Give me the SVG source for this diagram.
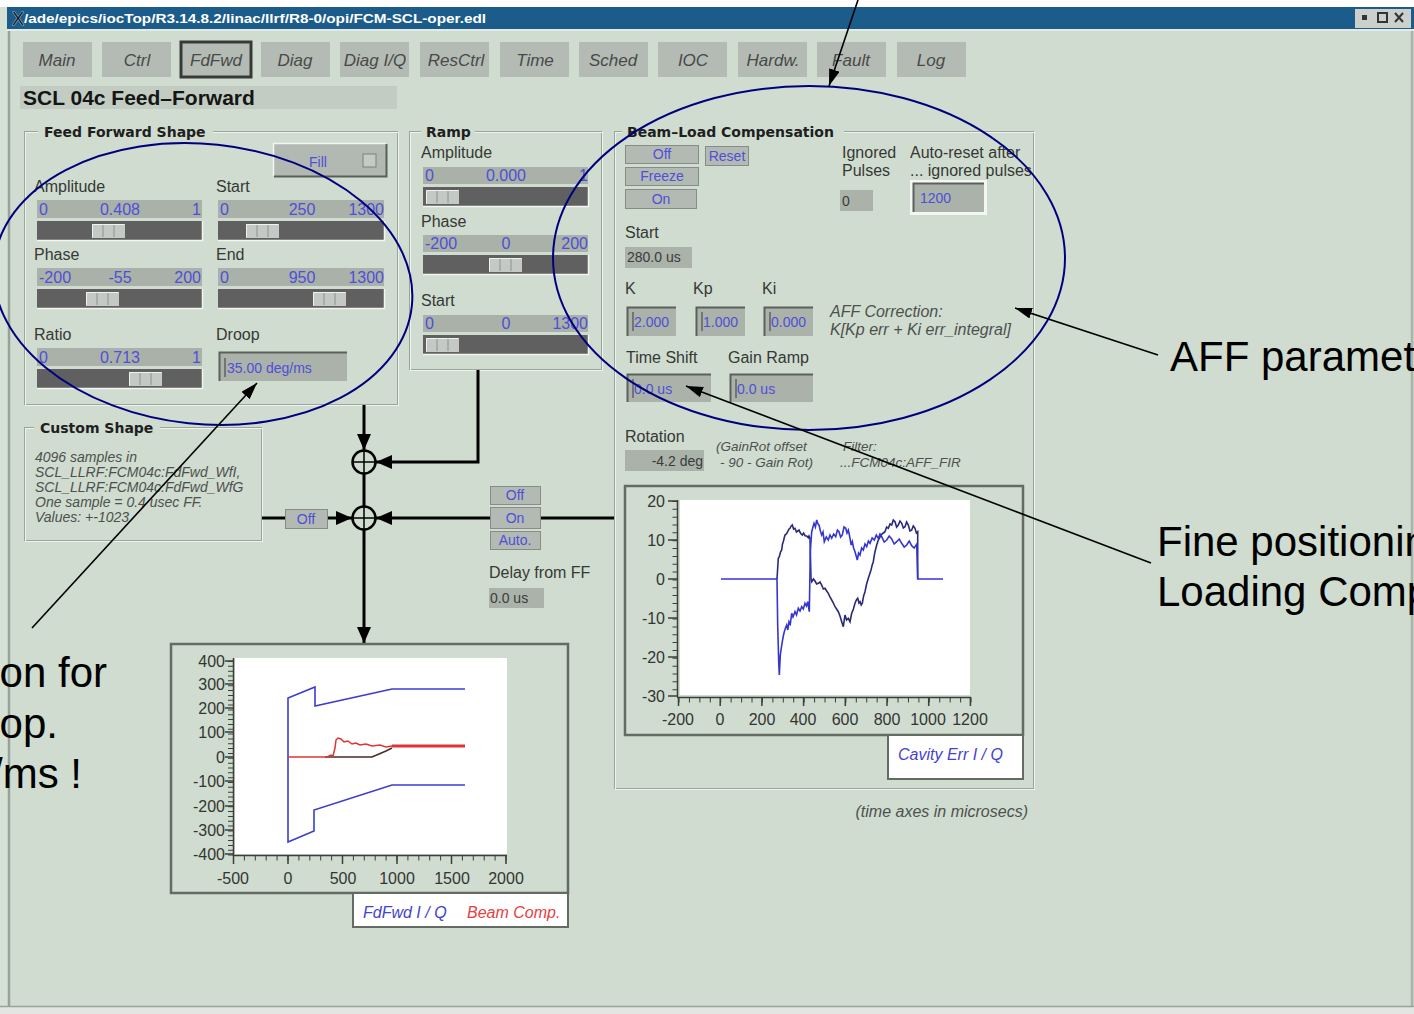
<svg xmlns="http://www.w3.org/2000/svg" width="1414" height="1014" viewBox="0 0 1414 1014">
<defs>
<style>
text{font-family:"Liberation Sans",Arial,sans-serif}
.lbl{font-size:16px;fill:#363836}
.hdr{font-family:"DejaVu Sans","Liberation Sans",sans-serif;font-size:14px;font-weight:bold;fill:#1e201e}
.val{font-size:16px;fill:#4f4fd8}
.bv{font-size:14px;fill:#4f4fd8}
.dv{font-size:14px;fill:#3a3c3a}
.tab{fill:#b4bbb4}
.tabt{font-size:17px;font-style:italic;fill:#484a48;text-anchor:middle}
.it{font-style:italic;fill:#4e504e}
.ax{font-size:16px;fill:#333533}
.ann{font-size:42px;fill:#000}
.m{text-anchor:middle}
.e{text-anchor:end}
.strip{fill:#a9b1a9}
.track{fill:#5f605f}
.hl{fill:none;stroke:#f2f5f2;stroke-width:1.5}
.sh{fill:none;stroke:#5a5e5a;stroke-width:2}
.frame{fill:none;stroke:#9ca59c}
.frame2{fill:none;stroke:#eef3ee}
.box{fill:#aab2aa}
.btn{fill:#b3bab3;stroke:#858d85}
.flow{stroke:#000;stroke-width:3;fill:none}
.note{stroke:#000;stroke-width:1.6;fill:none}
.ell{fill:none;stroke:#00007e;stroke-width:2}
.pframe{fill:none;stroke:#636b63;stroke-width:2.5}
.tick{stroke:#3c3e3c;fill:none}
</style>
<marker id="flowHead" markerUnits="userSpaceOnUse" markerWidth="16" markerHeight="14" viewBox="0 0 16 14" refX="16" refY="7" orient="auto">
<path d="M0,0 L16,7 L0,14 z" fill="#000"/>
</marker>
<marker id="noteHead" markerUnits="userSpaceOnUse" markerWidth="17" markerHeight="11" viewBox="0 0 17 11" refX="17" refY="5.5" orient="auto">
<path d="M0,0 L17,5.5 L0,11 z" fill="#000"/>
</marker>
<symbol id="thumb" viewBox="0 0 33 14" width="33" height="14">
<rect x="0" y="0" width="33" height="14" fill="#c5c9c5"/>
<path d="M0.5,13.5 V0.5 H32.5" stroke="#f0f2f0" fill="none"/>
<path d="M11,1 V13 M22,1 V13" stroke="#8d928d"/>
</symbol>
</defs>

<!-- window background -->
<rect x="0" y="0" width="1414" height="1014" fill="#cfdccf"/>
<rect x="0" y="0" width="1414" height="7" fill="#ffffff"/>
<rect x="0" y="7" width="8" height="1007" fill="#d6e1d6"/>
<line x1="9" y1="29" x2="9" y2="1007" stroke="#98a298" stroke-width="2.5"/>
<line x1="1412" y1="29" x2="1412" y2="1007" stroke="#aab2aa" stroke-width="2.5"/>
<rect x="0" y="1006" width="1414" height="8" fill="#e2e5e2"/>
<line x1="0" y1="1006.5" x2="1414" y2="1006.5" stroke="#9aa29a" stroke-width="1.5"/>

<!-- title bar -->
<g id="titlebar">
<rect x="7" y="7" width="1407" height="22" fill="#1b5c8a"/>
<line x1="7" y1="30" x2="1414" y2="30" stroke="#e4ebe4" stroke-width="2"/>
<text x="12" y="25" font-family="'Liberation Serif',serif" font-size="18" fill="#101c30" stroke="#e8eef4" stroke-width="0.6" paint-order="stroke">X</text>
<text x="24" y="23" font-size="13" font-weight="bold" fill="#ffffff" textLength="462" lengthAdjust="spacingAndGlyphs">/ade/epics/iocTop/R3.14.8.2/linac/llrf/R8-0/opi/FCM-SCL-oper.edl</text>
<rect x="1355" y="9" width="56" height="19" fill="#ccd0cc"/>
<rect x="1362" y="15" width="5" height="5" fill="#333"/>
<rect x="1378" y="13" width="9" height="9" fill="none" stroke="#333" stroke-width="2"/>
<path d="M1395,13 L1403,22 M1403,13 L1395,22" stroke="#333" stroke-width="2"/>
</g>

<!-- tab row -->
<g id="tabs">
<rect class="tab" x="23" y="42" width="69" height="35"/><text class="tabt" x="57" y="66">Main</text>
<rect class="tab" x="102" y="42" width="69" height="35"/><text class="tabt" x="137" y="66">Ctrl</text>
<rect class="tab" x="181" y="42" width="70" height="35" stroke="#383a38" stroke-width="3"/><text class="tabt" x="216" y="66">FdFwd</text>
<rect class="tab" x="261" y="42" width="69" height="35"/><text class="tabt" x="295" y="66">Diag</text>
<rect class="tab" x="340" y="42" width="69" height="35"/><text class="tabt" x="375" y="66">Diag I/Q</text>
<rect class="tab" x="420" y="42" width="69" height="35"/><text class="tabt" x="456" y="66">ResCtrl</text>
<rect class="tab" x="500" y="42" width="69" height="35"/><text class="tabt" x="535" y="66">Time</text>
<rect class="tab" x="579" y="42" width="69" height="35"/><text class="tabt" x="613" y="66">Sched</text>
<rect class="tab" x="658" y="42" width="69" height="35"/><text class="tabt" x="693" y="66">IOC</text>
<rect class="tab" x="738" y="42" width="69" height="35"/><text class="tabt" x="773" y="66">Hardw.</text>
<rect class="tab" x="817" y="42" width="69" height="35"/><text class="tabt" x="851" y="66">Fault</text>
<rect class="tab" x="897" y="42" width="69" height="35"/><text class="tabt" x="931" y="66">Log</text>
</g>

<!-- screen title -->
<g id="screenTitle">
<rect x="20" y="86" width="377" height="23" fill="#c3ccc3"/>
<text x="23" y="105" font-size="21" font-weight="bold" fill="#141614">SCL 04c Feed–Forward</text>
</g>

<!-- Feed Forward Shape panel -->
<g id="ffShape">
<rect class="frame" x="24.5" y="131.5" width="373" height="273"/>
<rect class="frame2" x="25.5" y="132.5" width="373" height="273"/>
<rect x="38" y="124" width="175" height="16" fill="#cfdccf"/>
<text class="hdr" x="44" y="137">Feed Forward Shape</text>

<rect x="273" y="143" width="114" height="34" fill="#b2b9b2"/>
<path d="M273.5,176.5 V143.5 H386.5" class="hl"/>
<path d="M274,176.5 H386.5 V144" class="sh"/>
<text class="bv m" x="318" y="167">Fill</text>
<rect x="363" y="154" width="13" height="13" fill="#c6cac6" stroke="#7a807a"/>

<text class="lbl" x="34" y="192">Amplitude</text>
<rect class="strip" x="37" y="200" width="165" height="18"/>
<rect class="track" x="37" y="221" width="165" height="19"/>
<path class="hl" d="M37,240.5 H202.5 V221"/>
<use href="#thumb" x="92" y="224"/>
<text class="val" x="39" y="215">0</text>
<text class="val m" x="120" y="215">0.408</text>
<text class="val e" x="201" y="215">1</text>

<text class="lbl" x="216" y="192">Start</text>
<rect class="strip" x="218" y="200" width="166" height="18"/>
<rect class="track" x="218" y="221" width="166" height="19"/>
<path class="hl" d="M218,240.5 H384.5 V221"/>
<use href="#thumb" x="246" y="224"/>
<text class="val" x="220" y="215">0</text>
<text class="val m" x="302" y="215">250</text>
<text class="val e" x="384" y="215">1300</text>

<text class="lbl" x="34" y="260">Phase</text>
<rect class="strip" x="37" y="268" width="165" height="18"/>
<rect class="track" x="37" y="289" width="165" height="19"/>
<path class="hl" d="M37,308.5 H202.5 V289"/>
<use href="#thumb" x="86" y="292"/>
<text class="val" x="39" y="283">-200</text>
<text class="val m" x="120" y="283">-55</text>
<text class="val e" x="201" y="283">200</text>

<text class="lbl" x="216" y="260">End</text>
<rect class="strip" x="218" y="268" width="166" height="18"/>
<rect class="track" x="218" y="289" width="166" height="19"/>
<path class="hl" d="M218,308.5 H384.5 V289"/>
<use href="#thumb" x="313" y="292"/>
<text class="val" x="220" y="283">0</text>
<text class="val m" x="302" y="283">950</text>
<text class="val e" x="384" y="283">1300</text>

<text class="lbl" x="34" y="340">Ratio</text>
<rect class="strip" x="37" y="348" width="165" height="18"/>
<rect class="track" x="37" y="369" width="165" height="19"/>
<path class="hl" d="M37,388.5 H202.5 V369"/>
<use href="#thumb" x="129" y="372"/>
<text class="val" x="39" y="363">0</text>
<text class="val m" x="120" y="363">0.713</text>
<text class="val e" x="201" y="363">1</text>

<text class="lbl" x="216" y="340">Droop</text>
<rect class="box" x="219" y="352" width="128" height="29"/>
<path d="M219.5,381 V352.5 H347" stroke="#5c605c" stroke-width="2" fill="none"/>
<line x1="225" y1="358" x2="225" y2="377" stroke="#3a3a3a"/>
<text class="bv" x="227" y="373">35.00 deg/ms</text>
</g>

<!-- Ramp panel -->
<g id="ramp">
<rect class="frame" x="409.5" y="131.5" width="192" height="238"/>
<rect class="frame2" x="410.5" y="132.5" width="192" height="238"/>
<rect x="421" y="124" width="54" height="16" fill="#cfdccf"/>
<text class="hdr" x="426" y="137">Ramp</text>

<text class="lbl" x="421" y="158">Amplitude</text>
<rect class="strip" x="423" y="167" width="165" height="17"/>
<rect class="track" x="423" y="187" width="165" height="19"/>
<path class="hl" d="M423,206.5 H588.5 V187"/>
<use href="#thumb" x="426" y="190"/>
<text class="val" x="425" y="181">0</text>
<text class="val m" x="506" y="181">0.000</text>
<text class="val e" x="588" y="181">1</text>

<text class="lbl" x="421" y="227">Phase</text>
<rect class="strip" x="423" y="235" width="165" height="17"/>
<rect class="track" x="423" y="255" width="165" height="19"/>
<path class="hl" d="M423,274.5 H588.5 V255"/>
<use href="#thumb" x="489" y="258"/>
<text class="val" x="425" y="249">-200</text>
<text class="val m" x="506" y="249">0</text>
<text class="val e" x="588" y="249">200</text>

<text class="lbl" x="421" y="306">Start</text>
<rect class="strip" x="423" y="315" width="165" height="17"/>
<rect class="track" x="423" y="335" width="165" height="19"/>
<path class="hl" d="M423,354.5 H588.5 V335"/>
<use href="#thumb" x="426" y="338"/>
<text class="val" x="425" y="329">0</text>
<text class="val m" x="506" y="329">0</text>
<text class="val e" x="588" y="329">1300</text>
</g>

<!-- Custom Shape panel -->
<g id="customShape">
<rect class="frame" x="24.5" y="427.5" width="237" height="113"/>
<rect class="frame2" x="25.5" y="428.5" width="237" height="113"/>
<rect x="34" y="420" width="126" height="16" fill="#cfdccf"/>
<text class="hdr" x="40" y="433">Custom Shape</text>
<text class="it" font-size="14" x="35" y="462">4096 samples in</text>
<text class="it" font-size="14" x="35" y="477">SCL_LLRF:FCM04c:FdFwd_WfI,</text>
<text class="it" font-size="14" x="35" y="492">SCL_LLRF:FCM04c:FdFwd_WfG</text>
<text class="it" font-size="14" x="35" y="507">One sample = 0.4 usec FF.</text>
<text class="it" font-size="14" x="35" y="522">Values: +-1023</text>
</g>

<!-- summing junctions and switches -->
<g id="junctionTop">
<circle cx="364" cy="462" r="11.5" fill="none" stroke="#000" stroke-width="2.5"/>
<path d="M352.5,462 H375.5 M364,450.5 V473.5" stroke="#000" stroke-width="1.5"/>
</g>
<g id="junctionBottom">
<circle cx="364" cy="518" r="11.5" fill="none" stroke="#000" stroke-width="2.5"/>
<path d="M352.5,518 H375.5 M364,506.5 V529.5" stroke="#000" stroke-width="1.5"/>
</g>

<g id="connectors">
<line class="flow" x1="364" y1="405" x2="364" y2="450" marker-end="url(#flowHead)"/>
<path class="flow" d="M478,370 V462 H376" marker-end="url(#flowHead)"/>
<line class="flow" x1="364" y1="473.5" x2="364" y2="506.5"/>
<line class="flow" x1="262" y1="518" x2="285" y2="518"/>
<line class="flow" x1="328" y1="518" x2="352" y2="518" marker-end="url(#flowHead)"/>
<line class="flow" x1="614" y1="518" x2="540" y2="518"/>
<line class="flow" x1="490" y1="518" x2="376" y2="518" marker-end="url(#flowHead)"/>
<line class="flow" x1="364" y1="529.5" x2="364" y2="643" marker-end="url(#flowHead)"/>
</g>

<g id="customSwitch">
<rect class="btn" x="285.5" y="509.5" width="42" height="19"/>
<text class="bv m" font-size="13" x="306" y="524">Off</text>
</g>

<g id="beamSwitch">
<rect class="btn" x="490.5" y="486.5" width="50" height="18"/>
<text class="bv m" font-size="13" x="515" y="500">Off</text>
<rect class="btn" x="490.5" y="507.5" width="50" height="21"/>
<text class="bv m" font-size="13" x="515" y="523">On</text>
<rect class="btn" x="490.5" y="531.5" width="50" height="18"/>
<text class="bv m" font-size="13" x="515" y="545">Auto.</text>
<text class="lbl" x="489" y="578">Delay from FF</text>
<rect class="box" x="489" y="588" width="55" height="20"/>
<text class="dv" font-size="13" x="490" y="603">0.0 us</text>
</g>

<!-- Beam-Load Compensation panel -->
<g id="beamLoad">
<rect class="frame" x="614.5" y="131.5" width="419" height="657"/>
<rect class="frame2" x="615.5" y="132.5" width="419" height="657"/>
<rect x="622" y="124" width="222" height="16" fill="#cfdccf"/>
<text class="hdr" x="627" y="137">Beam–Load Compensation</text>

<rect class="btn" x="625.5" y="145.5" width="73" height="18"/>
<text class="bv m" font-size="13" x="662" y="159">Off</text>
<rect class="btn" x="705.5" y="146.5" width="43" height="19" stroke="#5c6a9a"/>
<text class="bv m" font-size="13" x="727" y="161">Reset</text>
<rect class="btn" x="625.5" y="167.5" width="73" height="18"/>
<text class="bv m" font-size="13" x="662" y="181">Freeze</text>
<rect class="btn" x="625.5" y="189.5" width="71" height="19"/>
<text class="bv m" font-size="13" x="661" y="204">On</text>

<text class="lbl" x="842" y="158">Ignored</text>
<text class="lbl" x="842" y="176">Pulses</text>
<text class="lbl" x="910" y="158">Auto-reset after</text>
<text class="lbl" x="910" y="176">... ignored pulses</text>
<rect class="box" x="840" y="190" width="33" height="21"/>
<text class="dv" font-size="13" x="842" y="206">0</text>
<rect x="910" y="180" width="77" height="35" fill="#f4f6f4"/>
<rect class="box" x="913" y="183" width="71" height="29"/>
<path d="M913.5,212 V183.5 H984" stroke="#5c605c" stroke-width="2" fill="none"/>
<text class="bv" x="920" y="203">1200</text>

<text class="lbl" x="625" y="238">Start</text>
<rect class="box" x="625" y="247" width="67" height="21"/>
<text class="dv" font-size="13" x="627" y="262">280.0 us</text>

<text class="lbl" x="625" y="294">K</text>
<text class="lbl" x="693" y="294">Kp</text>
<text class="lbl" x="762" y="294">Ki</text>
<rect class="box" x="627" y="307" width="49" height="29"/>
<path d="M627.5,336 V307.5 H676" stroke="#5c605c" stroke-width="2" fill="none"/>
<line x1="633" y1="312" x2="633" y2="331" stroke="#3a3a3a"/>
<text class="bv" x="634" y="327">2.000</text>
<rect class="box" x="696" y="307" width="49" height="29"/>
<path d="M696.5,336 V307.5 H745" stroke="#5c605c" stroke-width="2" fill="none"/>
<line x1="702" y1="312" x2="702" y2="331" stroke="#3a3a3a"/>
<text class="bv" x="703" y="327">1.000</text>
<rect class="box" x="764" y="307" width="49" height="29"/>
<path d="M764.5,336 V307.5 H813" stroke="#5c605c" stroke-width="2" fill="none"/>
<line x1="770" y1="312" x2="770" y2="331" stroke="#3a3a3a"/>
<text class="bv" x="771" y="327">0.000</text>

<text class="it" font-size="16" x="830" y="317">AFF Correction:</text>
<text class="it" font-size="16" x="830" y="335">K[Kp err + Ki err_integral]</text>

<text class="lbl" x="626" y="363">Time Shift</text>
<text class="lbl" x="728" y="363">Gain Ramp</text>
<rect class="box" x="627" y="374" width="84" height="28"/>
<path d="M627.5,402 V374.5 H711" stroke="#5c605c" stroke-width="2" fill="none"/>
<line x1="633" y1="379" x2="633" y2="398" stroke="#3a3a3a"/>
<text class="bv" x="634" y="394">0.0 us</text>
<rect class="box" x="730" y="374" width="83" height="28"/>
<path d="M730.5,402 V374.5 H813" stroke="#5c605c" stroke-width="2" fill="none"/>
<line x1="736" y1="379" x2="736" y2="398" stroke="#3a3a3a"/>
<text class="bv" x="737" y="394">0.0 us</text>

<text class="lbl" x="625" y="442">Rotation</text>
<rect class="box" x="625" y="450" width="79" height="21"/>
<text class="dv e" x="703" y="466">-4.2 deg</text>
<text class="it" font-size="13.5" x="716" y="451">(GainRot offset</text>
<text class="it" font-size="13.5" x="720" y="467">- 90 - Gain Rot)</text>
<text class="it" font-size="13.5" x="843" y="451">Filter:</text>
<text class="it" font-size="13.5" x="840" y="467">...FCM04c:AFF_FIR</text>
</g>

<!-- cavity error plot -->
<g id="errPlot">
<rect class="pframe" x="625" y="486" width="398" height="249"/>
<rect x="680" y="500" width="290" height="195" fill="#ffffff"/>
<line class="tick" x1="677.5" y1="500" x2="677.5" y2="697" stroke-width="1.5"/>
<line class="tick" x1="675" y1="501" x2="675" y2="697" stroke-width="5" stroke-dasharray="1 6.84"/>
<path class="tick" stroke-width="1.5" d="M668,501 H678 M668,540 H678 M668,579 H678 M668,618 H678 M668,657 H678 M668,696 H678"/>
<line class="tick" x1="677" y1="697.5" x2="971" y2="697.5" stroke-width="1.5"/>
<line class="tick" x1="678.5" y1="700" x2="972" y2="700" stroke-width="5" stroke-dasharray="1 9.43"/>
<path class="tick" stroke-width="1.5" d="M678.5,697 V706 M720.2,697 V706 M761.9,697 V706 M803.6,697 V706 M845.3,697 V706 M887,697 V706 M928.7,697 V706 M970.4,697 V706"/>
<text class="ax e" x="665" y="507">20</text>
<text class="ax e" x="665" y="546">10</text>
<text class="ax e" x="665" y="585">0</text>
<text class="ax e" x="665" y="624">-10</text>
<text class="ax e" x="665" y="663">-20</text>
<text class="ax e" x="665" y="702">-30</text>
<text class="ax m" x="678" y="725">-200</text>
<text class="ax m" x="720" y="725">0</text>
<text class="ax m" x="762" y="725">200</text>
<text class="ax m" x="803" y="725">400</text>
<text class="ax m" x="845" y="725">600</text>
<text class="ax m" x="887" y="725">800</text>
<text class="ax m" x="928" y="725">1000</text>
<text class="ax m" x="970" y="725">1200</text>
<polyline fill="none" stroke="#2a2a7a" stroke-width="1.6" points="777,579 778.3,558.3 779.3,556.7 780.5,552 781.7,550 782.5,544 783.3,541.7 784.2,538 785,535 786.4,534 787.7,531.7 789,529 790,528.3 791.2,526 792.3,525 793.6,529 795,528.3 796.4,532 797.7,531 799,530 800,532.3 801.1,534 802.3,535 803.6,533 805,535.7 806.7,536 808.3,537.7 809,536 810,538.3 811,579 811.7,581.7 813.4,579 815,581 816.6,584 818.3,583.3 820,582 821.7,585 823.3,589 825,588.3 826.7,591 828.3,593.3 830,597 831.7,600 833.4,603 835,606.7 836.6,609 838.3,611.7 840,616 841.7,621.7 843.3,626.7 845,615 846.6,620 848.3,618.3 850,621.7 851.7,613.3 853.4,609 855,603.3 856.4,600 857.7,598.3 859,603 860,601.7 861.2,605 862.3,603.3 863.6,596 865,591.7 866.6,584 868.3,578.3 869.7,574 871,570 872.2,565 873.3,561.7 874.2,556 875,551.7 876.7,545 878.3,540 880,537 881.7,534.3 883.3,533 885,531.7 886.6,527 888.3,528.3 890,524 891.7,525 893.3,520 895,521.7 896.6,527 898.3,525 900,521 901.7,523.3 903.3,528 905,526.7 906.6,522 908.3,525 910,531 911.7,530 913.3,526 915,528.3 916.4,533 917.7,531.7 917.7,579"/>
<polyline fill="none" stroke="#3535d2" stroke-width="1.6" points="721,579 777,579 777.7,625 778.7,661.7 779.3,675 780.3,655 781.3,648 782.3,641.7 783.3,636 784.3,631.7 785.5,628 786.7,625 787.8,630 789,621.7 790.3,624 791.7,613.3 793,617 795,611.7 796.5,615 798.3,608.3 800,611 801.7,606.7 803.3,609 805,603.3 806.5,606 807.7,601.7 809.3,611.7 810.3,551.7 811.7,531.7 814,523.3 815.4,527 816.7,520 818,524 819,525 820.4,531 821.7,535 823,532 824.3,541.7 826.3,537 828.3,540 830,535 831.7,538.3 833.7,534 835.7,536.7 837.4,530 839,531.7 840.6,537 842.3,535 844,527 845.7,528.3 847,533 848.3,530 849.2,534 850,538.3 851.2,545 852.3,541.7 853.6,548 855,551.7 856.2,556 857.3,560 858.6,553 860,555 861.6,548 863.3,550 865,544 866.7,546.7 868.4,541 870,543.3 872.2,538 874.3,540 876.3,535 878.3,538.3 880,534 881.7,536.7 884.2,542 886.7,540 889.2,536 891.7,539 894.2,544 896.7,541.7 899.2,539 901.7,543.3 904.2,547 906.7,545 909.2,541 911.7,545.7 914.2,548 916.7,544.3 917.7,579 943,579"/>
<rect x="888" y="735" width="135" height="44" fill="#ffffff" stroke="#636b63" stroke-width="2"/>
<text class="it" font-size="16" x="898" y="760" style="fill:#4343d0">Cavity Err I  / Q</text>
<text class="it" font-size="16" x="1028" y="817" text-anchor="end">(time axes in microsecs)</text>
</g>

<!-- feed-forward I/Q plot -->
<g id="ffPlot">
<rect class="pframe" x="171" y="644" width="397" height="249"/>
<rect x="235" y="658" width="272" height="196" fill="#ffffff"/>
<line class="tick" x1="233.5" y1="658" x2="233.5" y2="856" stroke-width="1.5"/>
<line class="tick" x1="230.5" y1="661" x2="230.5" y2="856" stroke-width="5" stroke-dasharray="1 3.84"/>
<path class="tick" stroke-width="1.5" d="M225,661 H234 M225,684 H234 M225,708 H234 M225,732 H234 M225,757 H234 M225,781 H234 M225,806 H234 M225,830 H234 M225,854 H234"/>
<line class="tick" x1="233" y1="855.5" x2="507" y2="855.5" stroke-width="1.5"/>
<line class="tick" x1="233" y1="858" x2="508" y2="858" stroke-width="5" stroke-dasharray="1 9.9"/>
<path class="tick" stroke-width="1.5" d="M233.5,855 V864 M288,855 V864 M342.5,855 V864 M397,855 V864 M451.5,855 V864 M506,855 V864"/>
<text class="ax e" x="225" y="667">400</text>
<text class="ax e" x="225" y="690">300</text>
<text class="ax e" x="225" y="714">200</text>
<text class="ax e" x="225" y="738">100</text>
<text class="ax e" x="225" y="763">0</text>
<text class="ax e" x="225" y="787">-100</text>
<text class="ax e" x="225" y="812">-200</text>
<text class="ax e" x="225" y="836">-300</text>
<text class="ax e" x="225" y="860">-400</text>
<text class="ax m" x="233" y="884">-500</text>
<text class="ax m" x="288" y="884">0</text>
<text class="ax m" x="343" y="884">500</text>
<text class="ax m" x="397" y="884">1000</text>
<text class="ax m" x="452" y="884">1500</text>
<text class="ax m" x="506" y="884">2000</text>
<path fill="none" stroke="#3c3cd0" stroke-width="1.6" d="M465,689 H392 L315,706 V687 L288,698 V842 L314,831 V810 L392,785 H465"/>
<path fill="none" stroke="#4a2a2a" stroke-width="1.5" d="M325,757 H372 L379,754 L386,751 L392,748"/>
<path fill="none" stroke="#e03434" stroke-width="1.5" d="M288,757 H327 L331,755 L333,756 L335,748 L336,740 L338,738 L341,739 L344,742 L348,741 L352,744 L356,743 L360,745 L366,744 L372,746 L380,745 L386,747 L392,746 H465"/>
<path fill="none" stroke="#e03434" stroke-width="3" d="M392,746 H465"/>
<rect x="353" y="893" width="215" height="34" fill="#ffffff" stroke="#636b63" stroke-width="2"/>
<text class="it" font-size="16" x="363" y="918" style="fill:#4343d0">FdFwd I  / Q</text>
<text class="it" font-size="16" x="467" y="918" style="fill:#e84040">Beam Comp.</text>
</g>

<!-- callouts -->
<g id="callouts">
<ellipse class="ell" cx="203" cy="284" rx="210" ry="140" transform="rotate(6 203 284)"/>
<ellipse class="ell" cx="809" cy="258" rx="256" ry="172"/>
<line class="note" x1="858" y1="0" x2="829" y2="86" marker-end="url(#noteHead)"/>
<line class="note" x1="32" y1="628" x2="257" y2="383" marker-end="url(#noteHead)"/>
<line class="note" x1="1158" y1="355" x2="1015" y2="308" marker-end="url(#noteHead)"/>
<line class="note" x1="1151" y1="563" x2="686" y2="386" marker-end="url(#noteHead)"/>
<text class="ann" x="1170" y="371">AFF paramet</text>
<text class="ann" x="1157" y="556">Fine positionin</text>
<text class="ann" x="1157" y="606">Loading Comp</text>
<text class="ann e" x="107" y="687">on for</text>
<text class="ann e" x="58" y="738">op.</text>
<text class="ann e" x="82" y="788">/ms !</text>
</g>
</svg>
